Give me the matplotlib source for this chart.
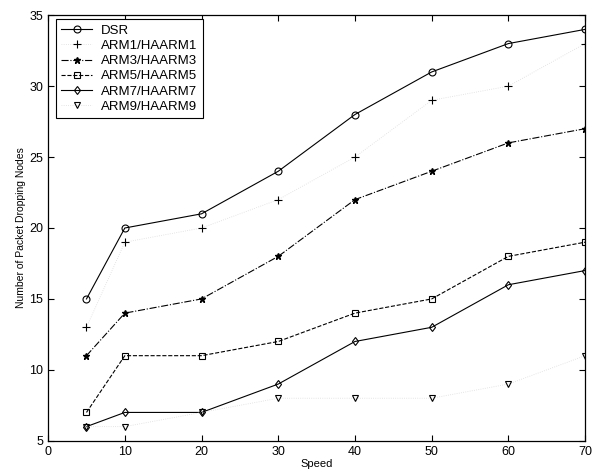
import matplotlib

matplotlib.use("Agg")
import matplotlib.pyplot as plt

# speeds on the x axis
speed = [5, 10, 20, 30, 40, 50, 60, 70]

# number of packet dropping nodes per protocol
dsr = [15, 20, 21, 24, 28, 31, 33, 34]
arm1 = [13, 19, 20, 22, 25, 29, 30, 33]
arm3 = [11, 14, 15, 18, 22, 24, 26, 27]
arm5 = [7, 11, 11, 12, 14, 15, 18, 19]
arm7 = [6, 7, 7, 9, 12, 13, 16, 17]
arm9 = [6, 6, 7, 8, 8, 8, 9, 11]

labels = ["DSR", "ARM1/HAARM1", "ARM3/HAARM3", "ARM5/HAARM5", "ARM7/HAARM7", "ARM9/HAARM9"]
xticks = [0, 10, 20, 30, 40, 50, 60, 70]
yticks = [5, 10, 15, 20, 25, 30, 35]

plt.rcParams["font.family"] = ["Liberation Sans", "DejaVu Sans"]

fig = plt.figure(figsize=(5.94, 4.75), dpi=100)
ax = fig.add_axes([0.081, 0.072, 0.904, 0.896])

mk = dict(markersize=5, markerfacecolor="none", markeredgecolor="black", markeredgewidth=0.8)
ax.plot(speed, dsr, "-", color="black", lw=0.8, marker="o", label=labels[0], **mk)
ax.plot(speed, arm1, ":", color="#dcdcdc", lw=0.6, marker="+", markersize=6,
        markeredgecolor="black", markeredgewidth=0.8, label=labels[1])
ax.plot(speed, arm3, "-.", color="black", lw=0.8, marker="*", markersize=5,
        markerfacecolor="black", markeredgecolor="black", label=labels[2])
ax.plot(speed, arm5, "--", color="black", lw=0.8, marker="s", label=labels[3], **mk)
ax.plot(speed, arm7, "-", color="black", lw=0.8, marker="d", markersize=4.5,
        markerfacecolor="none", markeredgecolor="black", markeredgewidth=0.8, label=labels[4])
ax.plot(speed, arm9, ":", color="#dcdcdc", lw=0.6, marker="v", label=labels[5], **mk)

ax.set_xlim(0, 70)
ax.set_ylim(5, 35)
ax.set_xticks(xticks)
ax.set_yticks(yticks)
ax.tick_params(direction="in", top=True, right=True, labelsize=9, length=4, width=0.8)
for s in ax.spines.values():
    s.set_linewidth(0.9)

ax.set_xlabel("Speed", fontsize=8, labelpad=1)
ax.set_ylabel("Number of Packet Dropping Nodes", fontsize=7.5, labelpad=2)

leg = ax.legend(loc="upper left", bbox_to_anchor=(0.015, 0.99), fontsize=9.5,
                frameon=True, fancybox=False, edgecolor="black", framealpha=1,
                handlelength=2.3, labelspacing=0.22, borderpad=0.4, handletextpad=0.7,
                borderaxespad=0)
leg.get_frame().set_linewidth(0.8)

fig.savefig("out.png", dpi=100)
